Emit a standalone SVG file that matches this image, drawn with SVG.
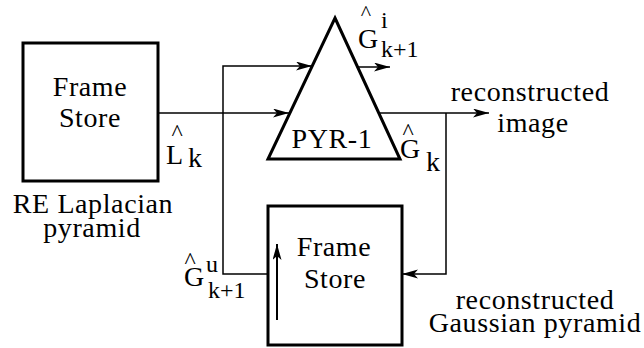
<svg xmlns="http://www.w3.org/2000/svg" width="644" height="348" viewBox="0 0 644 348" font-family="'Liberation Serif', 'Times New Roman', serif">
<style>
text { font-family: "Liberation Serif", "Times New Roman", serif; fill: #000; font-size: 28px; }
.m { text-anchor: middle; letter-spacing: 0.6px; }
.s { font-size: 24px; }
.hat { font-size: 24px; }
.box { fill: none; stroke: #000; stroke-width: 3; }
.ln { fill: none; stroke: #000; stroke-width: 1.5; }
</style>
<defs>
<marker id="ah" markerUnits="userSpaceOnUse" markerWidth="17" markerHeight="10" refX="16" refY="4.5" orient="auto">
<path d="M0,0 L16,4.5 L0,9 L4,4.5 z" fill="#000"/>
</marker>
</defs>
<rect width="644" height="348" fill="#fff"/>

<g id="connectors">
<polyline class="ln" points="268,274 223,274 223,66 312,66" marker-end="url(#ah)"/>
<line class="ln" x1="158" y1="113" x2="289" y2="113" marker-end="url(#ah)"/>
<line class="ln" x1="379" y1="113" x2="489" y2="113" marker-end="url(#ah)"/>
<polyline class="ln" points="446,113 446,274 402,274" marker-end="url(#ah)"/>
<line class="ln" x1="358" y1="67" x2="390" y2="67" marker-end="url(#ah)"/>
</g>

<g id="frame-store-1">
<rect class="box" x="23" y="43" width="135" height="138"/>
<text class="m"><tspan x="90" y="96">Frame</tspan><tspan x="90" y="127">Store</tspan></text>
</g>

<g id="laplacian-label">
<text class="m"><tspan x="93" y="213">RE Laplacian</tspan><tspan x="92" y="237">pyramid</tspan></text>
</g>

<g id="pyr-1">
<polygon points="335,18 400,159 268,159" fill="none" stroke="#000" stroke-width="3" stroke-linejoin="miter"/>
<text class="m" x="332" y="148">PYR-1</text>
</g>

<g id="frame-store-2">
<rect class="box" x="268" y="206" width="134" height="139"/>
<line x1="277" y1="320" x2="277" y2="244" stroke="#000" stroke-width="2" marker-end="url(#ah)"/>
<text class="m"><tspan x="334" y="256">Frame</tspan><tspan x="335" y="288">Store</tspan></text>
</g>

<g id="label-L">
<text x="166" y="164">L<tspan class="hat" x="171.4" y="140">^</tspan><tspan x="188" y="167">k</tspan></text>
</g>

<g id="label-Gk">
<text x="400" y="158">G<tspan class="hat" x="402.4" y="139">^</tspan><tspan x="426" y="171">k</tspan></text>
</g>

<g id="label-Gi">
<text x="358" y="48">G<tspan class="hat" x="360.8" y="20" style="font-size:22px">^</tspan><tspan class="s" x="381" y="28">i</tspan><tspan class="s" x="381" y="57">k+1</tspan></text>
</g>

<g id="label-Gu">
<text x="184" y="286">G<tspan class="hat" x="184.4" y="268">^</tspan><tspan class="s" x="206" y="272">u</tspan><tspan class="s" x="208" y="298">k+1</tspan></text>
</g>

<g id="output-label">
<text class="m"><tspan x="530" y="101">reconstructed</tspan><tspan x="533" y="132">image</tspan></text>
</g>

<g id="gaussian-label">
<text class="m"><tspan x="535" y="309">reconstructed</tspan><tspan x="535" y="332">Gaussian pyramid</tspan></text>
</g>
</svg>
